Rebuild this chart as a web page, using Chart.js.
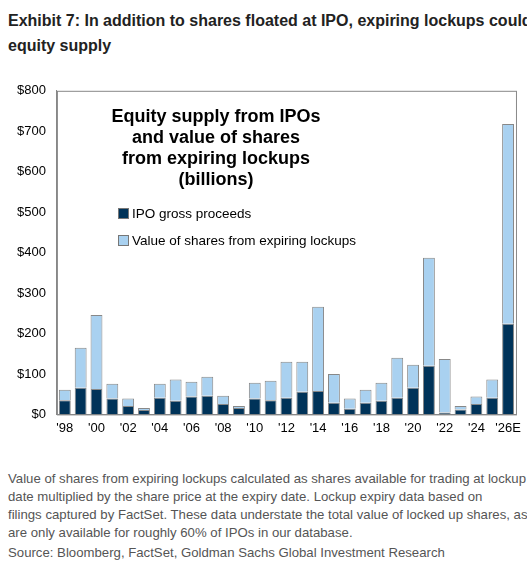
<!DOCTYPE html>
<html><head><meta charset="utf-8">
<script src="https://cdn.jsdelivr.net/npm/chart.js@4"></script>
<style>
body{margin:0;width:527px;height:573px;overflow:hidden;background:#fff;font-family:Arial,"Liberation Sans",sans-serif;position:relative}
#hdr{position:absolute;left:8px;top:8px;width:560px;font-weight:bold;font-size:16px;line-height:25px;color:#222;white-space:nowrap}
#wrap{position:absolute;left:0;top:80px;width:527px;height:362px}
#box{position:absolute;left:98px;top:106px;text-align:center;font-weight:bold;font-size:18px;line-height:21px;width:236px;color:#000}
#leg{position:absolute;left:118px;top:200px;font-size:13.5px;color:#000;line-height:27px}
#leg span{display:inline-block;width:9px;height:9px;margin-right:3px;border:1px solid #777;vertical-align:-1px}
#note{position:absolute;left:8px;top:470px;font-size:13.2px;line-height:18px;color:#555;white-space:nowrap}
#src{position:absolute;left:8px;top:545px;font-size:13.2px;color:#555}
</style></head><body>
<div id="hdr">Exhibit 7: In addition to shares floated at IPO, expiring lockups could add to<br>equity supply</div>
<div id="wrap"><canvas id="c"></canvas></div>
<div id="box">Equity supply from IPOs<br>and value of shares<br>from expiring lockups<br>(billions)</div>
<div id="leg"><div><span style="background:#003359"></span>IPO gross proceeds</div><div><span style="background:#a9d1f0"></span>Value of shares from expiring lockups</div></div>
<div id="note">Value of shares from expiring lockups calculated as shares available for trading at lockup expiry<br>date multiplied by the share price at the expiry date. Lockup expiry data based on<br>filings captured by FactSet. These data understate the total value of locked up shares, as they<br>are only available for roughly 60% of IPOs in our database.</div>
<div id="src">Source: Bloomberg, FactSet, Goldman Sachs Global Investment Research</div>
<script>
const years = ['98','99','00','01','02','03','04','05','06','07','08','09','10','11','12','13','14','15','16','17','18','19','20','21','22','23','24','25','26E'];
const ipoProceeds = [35,66,63,39,21,11,41,34,44,46,26,16,39,35,41,56,58,29,14,29,34,41,66,120,5,12,26,41,224];
const totalSupply = [61,165,246,76,39,16,76,86,81,93,46,21,78,83,130,130,266,100,39,61,78,140,123,387,137,21,44,86,718];
const lockupValue = totalSupply.map((t, i) => t - ipoProceeds[i]);
const yTicks = [0,100,200,300,400,500,600,700,800];

const labels = years.map(y => "'" + y);
new Chart(document.getElementById('c'), {
  type: 'bar',
  data: {
    labels: labels,
    datasets: [
      {label: 'IPO gross proceeds', data: ipoProceeds, backgroundColor: '#003359', borderColor: '#888', borderWidth: 1, barPercentage: 0.75, categoryPercentage: 1},
      {label: 'Value of shares from expiring lockups', data: lockupValue, backgroundColor: '#a9d1f0', borderColor: '#888', borderWidth: 1, barPercentage: 0.75, categoryPercentage: 1}
    ]
  },
  options: {
    responsive: true, maintainAspectRatio: false, animation: false,
    layout: {padding: {left: 14, right: 8, top: 6, bottom: 0}},
    plugins: {legend: {display: false}, tooltip: {enabled: false}},
    scales: {
      x: {stacked: true, grid: {display: false, drawTicks: false}, border: {color: '#888'},
          ticks: {color: '#000', font: {size: 13}, autoSkip: false, maxRotation: 0, padding: 6,
                  callback: function(v, i) { return i % 2 === 0 ? labels[i] : ''; }}},
      y: {stacked: true, min: 0, max: 800, afterBuildTicks: a => { a.ticks = yTicks.map(v => ({value: v})); },
          grid: {display: false}, border: {color: '#888'},
          ticks: {color: '#000', font: {size: 13}, callback: v => '$' + v}}
    }
  },
  plugins: [{id: 'frame', afterDraw(ch) {
    const a = ch.chartArea, c = ch.ctx;
    c.save(); c.strokeStyle = '#888'; c.lineWidth = 1;
    c.strokeRect(a.left + 0.5, a.top + 0.5, a.right - a.left, a.bottom - a.top); c.restore();
  }}]
});
</script>
</body></html>
